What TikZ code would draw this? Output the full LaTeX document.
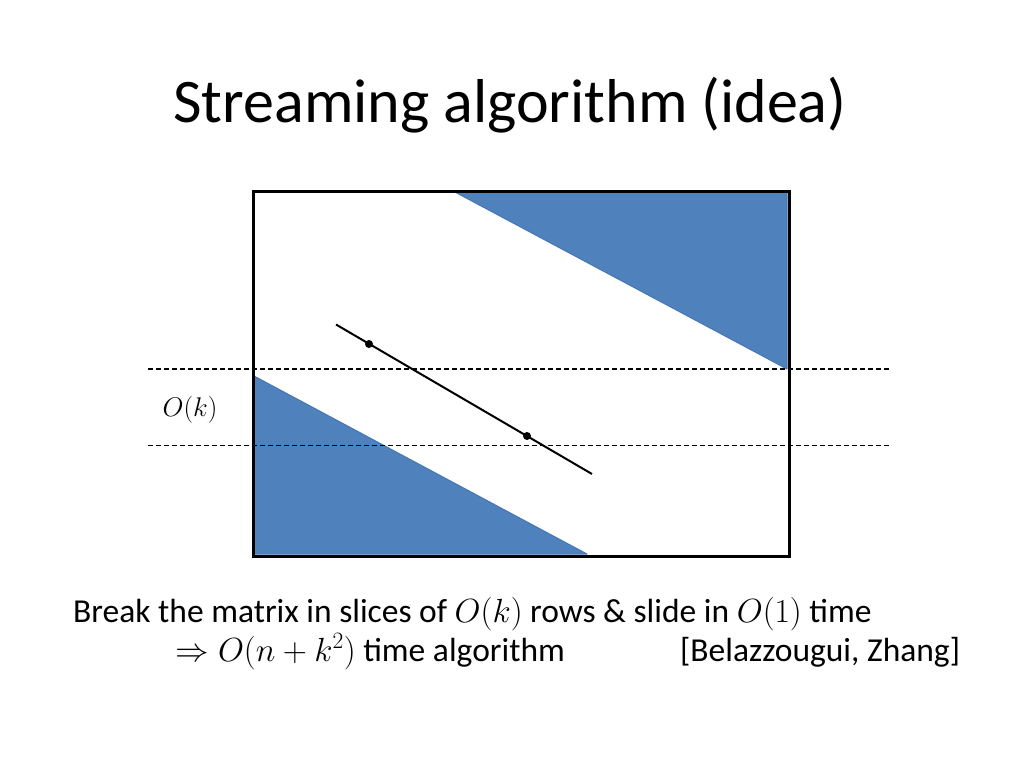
\RequirePackage{fix-cm}
\documentclass[tikz,border=0pt]{standalone}
\usepackage{fontspec}
\setmainfont{Carlito}
\begin{document}
\begin{tikzpicture}[x=1pt,y=-1pt,
  shade/.style={fill=blueA,draw=blueB,line width=1pt,line join=round},
  frame/.style={draw=black,line width=3pt},
  guide/.style={draw=black,dash pattern=on 5pt off 3pt},
  seg/.style={draw=black,line width=2pt},
  dot/.style={circle,fill=black,inner sep=0pt,minimum size=8pt},
  body/.style={anchor=base west,font=\fontsize{33.5}{38}\selectfont,inner sep=0pt,text height=24pt,text depth=3pt}]
\definecolor{blueA}{HTML}{4F81BD}
\definecolor{blueB}{HTML}{4677B3}
\useasboundingbox (0,0) rectangle (1024,768);
\fill[white] (0,0) rectangle (1024,768);
% title
\node[anchor=base,font=\fontsize{62}{70}\selectfont,inner sep=0pt] (title) at (510,122) {Streaming algorithm (idea)};
% shaded triangles
\path[shade] (453,191) -- (787,191) -- (787,369) -- cycle;
\path[shade] (254,376) -- (254,554) -- (587,554) -- cycle;
% frame
\node[frame,minimum width=536pt,minimum height=365pt,inner sep=0pt,anchor=north west] (frame) at (252,190) {};
% dashed guides
\coordinate (g1a) at (148,369); \coordinate (g1b) at (891,369);
\coordinate (g2a) at (148,445); \coordinate (g2b) at (891,445);
\draw[guide,line width=1.1pt] (g1a) -- (g1b);
\draw[guide,line width=0.8pt] (g2a) -- (g2b);
% diagonal segment
\coordinate (s1) at (336,324.5);
\coordinate (s2) at (592,474);
\draw[seg] (s1) -- (s2);
\node[dot] (d1) at (369,344) {};
\node[dot] (d2) at (527,436) {};
% label
\node[font=\fontsize{27}{30}\selectfont,inner sep=0pt] (ok) at (190,410) {$O(k)$};
% bottom text
\node[body] (l1) at (73,622) {Break the matrix in slices of $O(k)$ rows \& slide in $O(1)$ time};
\node[body] (l2) at (175,661) {$\Rightarrow O(n+k^2)$ time algorithm};
\node[body] (l3) at (680,661) {[Belazzougui, Zhang]};
\end{tikzpicture}
\end{document}
